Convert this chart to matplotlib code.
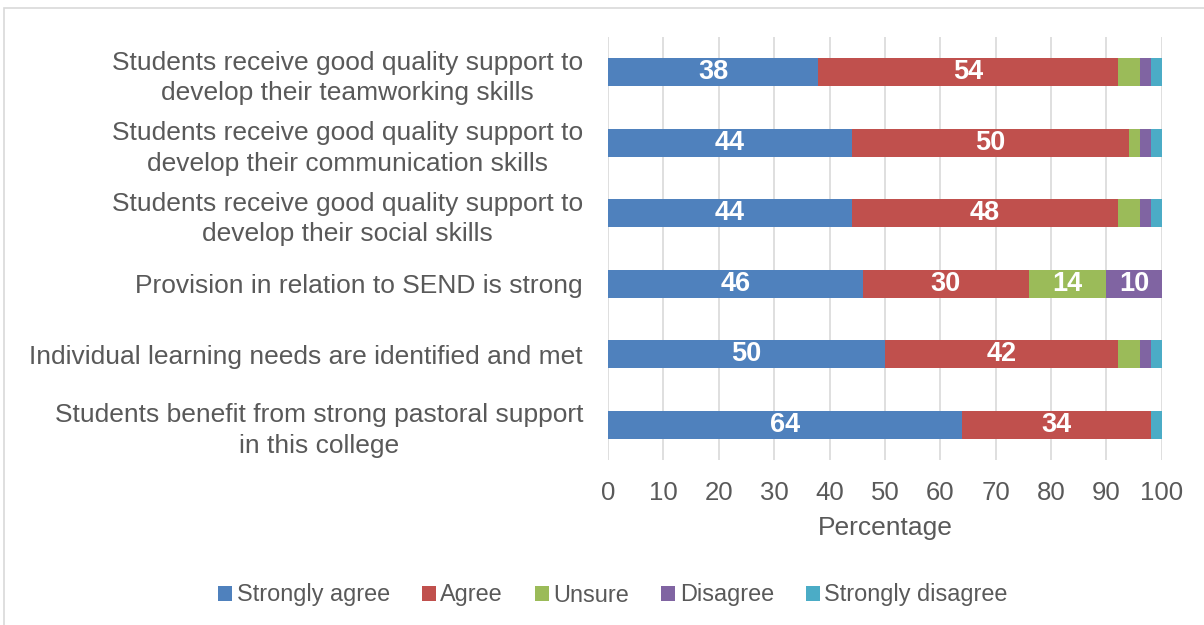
import matplotlib
matplotlib.use("Agg")
import matplotlib.pyplot as plt
from matplotlib.patches import Rectangle
import numpy as np

plt.rcParams["font.family"] = ["Liberation Sans", "DejaVu Sans"]

statements = [
    "Students receive good quality support to\ndevelop their teamworking skills",
    "Students receive good quality support to\ndevelop their communication skills",
    "Students receive good quality support to\ndevelop their social skills",
    "Provision in relation to SEND is strong",
    "Individual learning needs are identified and met",
    "Students benefit from strong pastoral support\nin this college",
]
responses = ["Strongly agree", "Agree", "Unsure", "Disagree", "Strongly disagree"]
strongly_agree = [38, 44, 44, 46, 50, 64]
agree = [54, 50, 48, 30, 42, 34]
unsure = [4, 2, 4, 14, 4, 0]
disagree = [2, 2, 2, 10, 2, 0]
strongly_disagree = [2, 2, 2, 0, 2, 2]
xticks = list(range(0, 101, 10))

colors = ["#4F81BD", "#C0504D", "#9BBB59", "#8064A2", "#4BACC6"]
GREY = "#595959"

series = [strongly_agree, agree, unsure, disagree, strongly_disagree]

fig = plt.figure(figsize=(12.04, 6.25), dpi=100)
ax = fig.add_axes([0.505, 0.264, 0.460, 0.677])

y = np.arange(len(statements))
left = np.zeros(len(statements))
for vals, col, name in zip(series, colors, responses):
    vals = np.array(vals, float)
    bars = ax.barh(y, vals, left=left, height=0.40, color=col, label=name, zorder=3)
    for b, v in zip(bars, vals):
        if v >= 10:
            ax.text(b.get_x() + b.get_width() / 2, b.get_y() + b.get_height() / 2,
                    f"{v:.0f}", ha="center", va="center", color="white",
                    fontsize=19.5, fontweight="bold", zorder=4)
    left += vals

ax.set_xlim(0, 100)
ax.set_ylim(len(statements) - 0.5, -0.5)
ax.set_xticks(xticks)
ax.set_yticks(y)
ax.set_yticklabels(statements, fontsize=19, color=GREY, ha="right",
                   multialignment="center", linespacing=1.35)
ax.tick_params(axis="x", labelsize=18.5, labelcolor=GREY, length=0, pad=15)
ax.tick_params(axis="y", length=0, pad=18)
ax.grid(axis="x", color="#d9d9d9", lw=1.2, zorder=0)
for s in ax.spines.values():
    s.set_visible(False)
ax.set_xlabel("Percentage", fontsize=19, color=GREY, labelpad=8)

fig.legend(loc="center", bbox_to_anchor=(0.509, 0.048), ncol=5, frameon=False,
           fontsize=16.9, labelcolor=GREY, handlelength=0.6, handleheight=0.6,
           handletextpad=0.2, columnspacing=1.35)

# thin chart-area border
fig.add_artist(Rectangle((0.003, -0.1), 1.2, 1.088, transform=fig.transFigure,
                         fill=False, edgecolor="#d9d9d9", lw=1.2))

fig.savefig("out.png", dpi=100)
